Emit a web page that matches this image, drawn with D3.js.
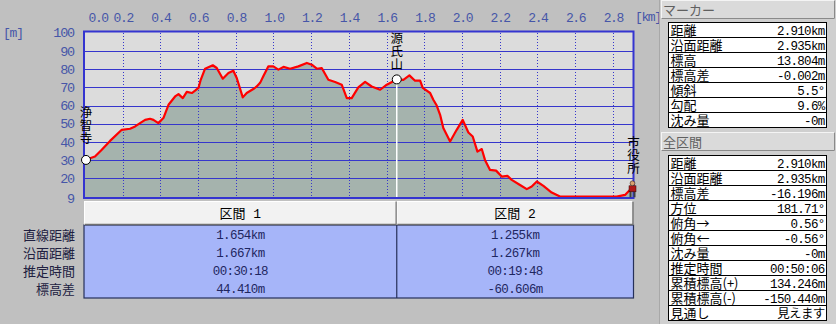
<!DOCTYPE html>
<html>
<head>
<meta charset="utf-8">
<script src="https://cdn.jsdelivr.net/npm/d3@7"></script>
<style>
  body { margin: 0; background: #c0c0c0; }
  text { font-family: "Liberation Mono", "Noto Sans CJK JP", monospace; }
  .jp { font-family: "Noto Sans CJK JP", sans-serif; }
</style>
</head>
<body>
<svg id="svgProfile"></svg>
<script>
// [ --- data
var distKm = [0, 0.053, 0.089, 0.133, 0.195, 0.239, 0.266, 0.292, 0.319, 0.345,
  0.363, 0.389, 0.416, 0.443, 0.478, 0.496, 0.519, 0.540, 0.567, 0.584,
  0.602, 0.614, 0.637, 0.678, 0.699, 0.731, 0.761, 0.787, 0.805, 0.837,
  0.858, 0.893, 0.911, 0.929, 0.946, 0.973, 0.999, 1.026, 1.053, 1.088,
  1.132, 1.177, 1.203, 1.230, 1.256, 1.291, 1.327, 1.362, 1.389, 1.415,
  1.450, 1.486, 1.521, 1.566, 1.601, 1.654, 1.689, 1.721, 1.751, 1.778,
  1.792, 1.831, 1.848, 1.866, 1.884, 1.901, 1.937, 1.972, 2.004, 2.034,
  2.057, 2.082, 2.105, 2.122, 2.149, 2.181, 2.211, 2.241, 2.264, 2.308,
  2.344, 2.370, 2.397, 2.432, 2.476, 2.520, 2.662, 2.821, 2.865, 2.892,
  2.910];
var elevM = [30.0, 31.9, 35.6, 40.5, 46.6, 47.2, 48.5, 50.3, 52.1, 52.7,
  52.1, 50.3, 53.1, 60.4, 65.0, 66.3, 64.1, 67.5, 66.9, 68.2,
  69.7, 74.2, 80.3, 82.2, 80.7, 74.8, 77.9, 79.2, 75.2, 64.5,
  66.9, 69.1, 70.5, 72.5, 76.1, 81.6, 81.6, 79.8, 81.3, 80.3,
  81.6, 83.5, 82.5, 80.3, 80.7, 74.2, 73.0, 71.5, 64.1, 64.1,
  70.0, 73.0, 70.5, 68.7, 71.5, 74.4, 74.2, 76.6, 73.7, 73.7,
  69.7, 66.9, 63.2, 60.0, 54.9, 47.6, 40.2, 46.6, 52.1, 45.1,
  42.9, 34.6, 36.0, 30.0, 24.5, 24.1, 20.8, 21.2, 19.0, 16.2,
  13.9, 15.3, 18.1, 15.7, 12.0, 9.8, 9.8, 9.8, 10.7, 13.5,
  13.8];

var xTicks = [0, 0.2, 0.4, 0.6, 0.8, 1.0, 1.2, 1.4, 1.6, 1.8, 2.0, 2.2, 2.4, 2.6, 2.8];
var yTicks = [100, 90, 80, 70, 60, 50, 40, 30, 20, 9];

var markerNames = ["浄智寺", "源氏山", "市役所"];
var markerDist = [0, 1.654, 2.910];
var markerElev = [30.0, 74.41, 13.804];

var sectionNames = ["区間 1", "区間 2"];
var rowLabels = ["直線距離", "沿面距離", "推定時間", "標高差"];
var section1Values = ["1.654km", "1.667km", "00:30:18", "44.410m"];
var section2Values = ["1.255km", "1.267km", "00:19:48", "-60.606m"];

var markerLabels = ["距離", "沿面距離", "標高", "標高差", "傾斜", "勾配", "沈み量"];
var markerValues = ["2.910km", "2.935km", "13.804m", "-0.002m", "5.5°", "9.6%", "-0m"];

var totalLabels = ["距離", "沿面距離", "標高差", "方位", "俯角→", "俯角←", "沈み量",
  "推定時間", "累積標高(+)", "累積標高(-)", "見通し"];
var totalValues = ["2.910km", "2.935km", "-16.196m", "181.71°", "0.56°", "-0.56°", "-0m",
  "00:50:06", "134.246m", "-150.440m", "見えます"];
// data ---]

var width = 836;
var height = 324;
var plotLeft = 85, plotRight = 633.5, plotTop = 33, plotBottom = 198;
var axisColor = "#4656a8";
var gridColor = "#3636cc";

var svg = d3.select("#svgProfile")
    .attr("width", width)
    .attr("height", height);

svg.append("rect")
    .attr("width", width)
    .attr("height", height)
    .attr("fill", "#c0c0c0");

var profile = distKm.map(function(d, i){ return {d: d, e: elevM[i]}; });

var xScale = d3.scaleLinear()
                .domain([0, 2.91])
                .range([plotLeft, plotRight]);

var yScale = d3.scaleLinear()
                .domain([9, 100])
                .range([plotBottom, plotTop]);

// [ --- plot area
svg.append("rect")
    .attr("x", plotLeft - 1)
    .attr("y", plotTop - 1)
    .attr("width", plotRight - plotLeft + 1)
    .attr("height", plotBottom - plotTop + 1)
    .attr("fill", "#dcdcdc");

svg.append("path")
    .datum(profile)
    .attr("fill", "#a5b3ad")
    .attr("d", d3.area()
        .x(d => xScale(d.d))
        .y0(yScale(9))
        .y1(d => yScale(d.e)));

svg.selectAll(".hgrid")
  .data(yTicks.filter(d => d !== 100 && d !== 9))
  .enter()
  .append("line")
    .classed("hgrid", true)
    .attr("x1", plotLeft)
    .attr("x2", plotRight)
    .attr("y1", d => Math.round(yScale(d)) + 0.5)
    .attr("y2", d => Math.round(yScale(d)) + 0.5)
    .attr("stroke", gridColor)
    .attr("stroke-width", 1.2);

svg.selectAll(".vgrid")
  .data(xTicks.filter(d => d > 0))
  .enter()
  .append("line")
    .classed("vgrid", true)
    .attr("x1", d => Math.round(xScale(d)) + 0.5)
    .attr("x2", d => Math.round(xScale(d)) + 0.5)
    .attr("y1", plotTop)
    .attr("y2", plotBottom)
    .attr("stroke", gridColor)
    .attr("stroke-dasharray", "1,2");

// white line from the summit marker down
svg.append("line")
    .attr("x1", xScale(markerDist[1]))
    .attr("x2", xScale(markerDist[1]))
    .attr("y1", yScale(markerElev[1]))
    .attr("y2", plotBottom)
    .attr("stroke", "#ffffff")
    .attr("stroke-width", 1.5);

svg.append("path")
    .datum(profile)
    .attr("fill", "none")
    .attr("stroke", "#ff0000")
    .attr("stroke-width", 2.2)
    .attr("stroke-linejoin", "round")
    .attr("d", d3.line()
        .x(d => xScale(d.d))
        .y(d => yScale(d.e)));

svg.append("rect")
    .attr("x", plotLeft - 1)
    .attr("y", plotTop - 1.5)
    .attr("width", plotRight - plotLeft + 1)
    .attr("height", plotBottom - plotTop + 1.5)
    .attr("fill", "none")
    .attr("stroke", "#3434d0")
    .attr("stroke-width", 2);
// plot area ---]

// [ --- axes
var xAxis = d3.axisTop(xScale)
                .tickValues(xTicks)
                .tickFormat(d3.format(".1f"))
                .tickSize(0)
                .tickPadding(3);

var gx = svg.append("g")
    .attr("transform", "translate(0,25)")
    .call(xAxis);
gx.select(".domain").remove();
gx.selectAll("text")
    .attr("fill", axisColor)
    .style("font-size", "13px")
    .style("letter-spacing", "-1.4px");
gx.selectAll("text").filter(d => d === 0)
    .attr("text-anchor", "start")
    .attr("x", 3);

var yAxis = d3.axisLeft(yScale)
                .tickValues(yTicks)
                .tickSize(0)
                .tickPadding(11);

var gy = svg.append("g")
    .attr("transform", "translate(" + plotLeft + ",0)")
    .call(yAxis);
gy.select(".domain").remove();
gy.selectAll("text")
    .attr("fill", axisColor)
    .style("font-size", "13.5px")
    .style("letter-spacing", "-1.2px");
gy.selectAll("text").filter(d => d === 100).attr("y", -1);

svg.append("text")
    .attr("x", 3)
    .attr("y", 37)
    .attr("fill", axisColor)
    .style("font-size", "13px")
    .style("letter-spacing", "-1.2px")
    .text("[m]");

svg.append("text")
    .attr("x", 635)
    .attr("y", 21)
    .attr("fill", axisColor)
    .style("font-size", "13px")
    .style("letter-spacing", "-1.4px")
    .text("[km]");
// axes ---]

// [ --- markers
var labelTops = [113, 38.5, 143];

markerNames.forEach(function(name, m){
  var cx = xScale(markerDist[m]);
  var chars = name.split("");
  svg.selectAll(".mk" + m)
    .data(chars)
    .enter()
    .append("text")
      .attr("class", "jp mk" + m)
      .attr("x", m === 0 ? cx + 1 : cx)
      .attr("y", (d, i) => labelTops[m] + i * 13)
      .attr("dy", "0.35em")
      .style("text-anchor", "middle")
      .style("font-size", "12.5px")
      .attr("fill", "#000")
      .text(d => d);
});

svg.selectAll(".pt")
  .data([0, 1])
  .enter()
  .append("circle")
    .classed("pt", true)
    .attr("cx", d => xScale(markerDist[d]) + (d === 0 ? 1 : 0))
    .attr("cy", d => yScale(markerElev[d]))
    .attr("r", 4.5)
    .attr("fill", "#ffffff")
    .attr("stroke", "#000")
    .attr("stroke-width", 1);

// little walker at the end point
var px = xScale(markerDist[2]), py = yScale(markerElev[2]);
var walker = svg.append("g").attr("transform", "translate(" + (px - 1) + "," + (py + 1) + ")");
walker.append("rect").attr("x", -3).attr("y", 1).attr("width", 2).attr("height", 6).attr("fill", "#404040");
walker.append("rect").attr("x", 1).attr("y", 1).attr("width", 2).attr("height", 6).attr("fill", "#404040");
walker.append("rect").attr("x", -3.5).attr("y", -4.5).attr("width", 7).attr("height", 6).attr("fill", "#b01818").attr("stroke", "#300").attr("stroke-width", 0.5);
walker.append("circle").attr("cx", 0).attr("cy", -7).attr("r", 2.4).attr("fill", "#d8a070").attr("stroke", "#402010").attr("stroke-width", 0.6);
// markers ---]

// [ --- section table
var colEdges = markerDist.map(d => xScale(d));
colEdges[0] = plotLeft - 1;
var headTop = 201, headBottom = 225, bodyBottom = 298;
var rowY = [235, 253, 271, 289];

svg.append("rect")
    .attr("x", colEdges[0])
    .attr("y", headBottom)
    .attr("width", colEdges[2] - colEdges[0])
    .attr("height", bodyBottom - headBottom)
    .attr("fill", "#a6b5f9")
    .attr("stroke", "#26305a")
    .attr("stroke-width", 1.2);

sectionNames.forEach(function(name, s){
  var x0 = colEdges[s], x1 = colEdges[s + 1];
  svg.append("rect")
      .attr("x", x0 + 0.5)
      .attr("y", headTop + 0.5)
      .attr("width", x1 - x0 - 1)
      .attr("height", headBottom - headTop - 1)
      .attr("fill", "#f2f2f2")
      .attr("stroke", "#ffffff");
  svg.append("path")
      .attr("d", "M" + (x0 + 0.5) + "," + (headBottom - 0.5) + "H" + (x1 - 0.5) + "V" + (headTop + 0.5))
      .attr("fill", "none")
      .attr("stroke", "#707070")
      .attr("stroke-width", 1.5);
  svg.append("text")
      .attr("x", (x0 + x1) / 2)
      .attr("y", (headTop + headBottom) / 2)
      .attr("dy", "0.35em")
      .style("text-anchor", "middle")
      .style("font-size", "13px")
      .attr("fill", "#000")
      .text(name);

  var vals = s === 0 ? section1Values : section2Values;
  svg.selectAll(".sv" + s)
    .data(vals)
    .enter()
    .append("text")
      .attr("class", "sv" + s)
      .attr("x", (x0 + x1) / 2)
      .attr("y", (d, i) => rowY[i])
      .attr("dy", "0.35em")
      .style("text-anchor", "middle")
      .style("font-size", "12.5px")
      .style("letter-spacing", "-0.6px")
      .attr("fill", "#1e2660")
      .text(d => d);
});

svg.append("line")
    .attr("x1", colEdges[1])
    .attr("x2", colEdges[1])
    .attr("y1", headBottom)
    .attr("y2", bodyBottom)
    .attr("stroke", "#26305a")
    .attr("stroke-width", 1.2);

svg.selectAll(".rl")
  .data(rowLabels)
  .enter()
  .append("text")
    .attr("class", "jp rl")
    .attr("x", 75)
    .attr("y", (d, i) => rowY[i])
    .attr("dy", "0.35em")
    .style("text-anchor", "end")
    .style("font-size", "13px")
    .attr("fill", "#202040")
    .text(d => d);
// section table ---]

// [ --- side panel
var panelX = 659;
svg.append("rect")
    .attr("x", panelX)
    .attr("y", 0)
    .attr("width", width - panelX)
    .attr("height", height)
    .attr("fill", "#cfcfcf");
svg.append("line")
    .attr("x1", panelX + 0.5).attr("x2", panelX + 0.5)
    .attr("y1", 0).attr("y2", height)
    .attr("stroke", "#a8a8a8");

function panelHeader(y, h, label){
  svg.append("rect")
      .attr("x", panelX + 2.5).attr("y", y + 0.5)
      .attr("width", width - panelX - 4).attr("height", h)
      .attr("fill", "#dadada")
      .attr("stroke", "#f4f4f4");
  svg.append("path")
      .attr("d", "M" + (panelX + 2.5) + "," + (y + h + 0.5) + "H" + (width - 1.5) + "V" + (y + 0.5))
      .attr("fill", "none")
      .attr("stroke", "#8a8a8a");
  svg.append("text")
      .attr("class", "jp")
      .attr("x", panelX + 4)
      .attr("y", y + h / 2 + 1)
      .attr("dy", "0.35em")
      .style("font-size", "13px")
      .attr("fill", "#606060")
      .text(label);
}

function panelTable(y, labels, values){
  var x0 = 668.5, x1 = 826.5, rh = 15;
  svg.append("rect")
      .attr("x", x0).attr("y", y + 0.5)
      .attr("width", x1 - x0).attr("height", labels.length * rh)
      .attr("fill", "#ffffff")
      .attr("stroke", "#000");
  svg.selectAll(".rowline" + y)
    .data(labels.slice(1))
    .enter()
    .append("line")
      .attr("x1", x0).attr("x2", x1)
      .attr("y1", (d, i) => y + 0.5 + (i + 1) * rh)
      .attr("y2", (d, i) => y + 0.5 + (i + 1) * rh)
      .attr("stroke", "#000");
  svg.selectAll(".plab" + y)
    .data(labels)
    .enter()
    .append("text")
      .attr("class", "jp")
      .attr("x", x0 + 2)
      .attr("y", (d, i) => y + i * rh + rh / 2 + 1)
      .attr("dy", "0.35em")
      .style("font-size", "13px")
      .attr("fill", "#000")
      .text(d => d);
  svg.selectAll(".pval" + y)
    .data(values)
    .enter()
    .append("text")
      .attr("x", x1 - 2)
      .attr("y", (d, i) => y + i * rh + rh / 2 + 1)
      .attr("dy", "0.35em")
      .style("text-anchor", "end")
      .style("font-size", "12.5px")
      .style("letter-spacing", "-0.7px")
      .attr("fill", "#000")
      .text(d => d);
}

panelHeader(0, 18, "マーカー");
panelTable(22, markerLabels, markerValues);
panelHeader(132, 18, "全区間");
panelTable(155, totalLabels, totalValues);
// side panel ---]
</script>
</body>
</html>
